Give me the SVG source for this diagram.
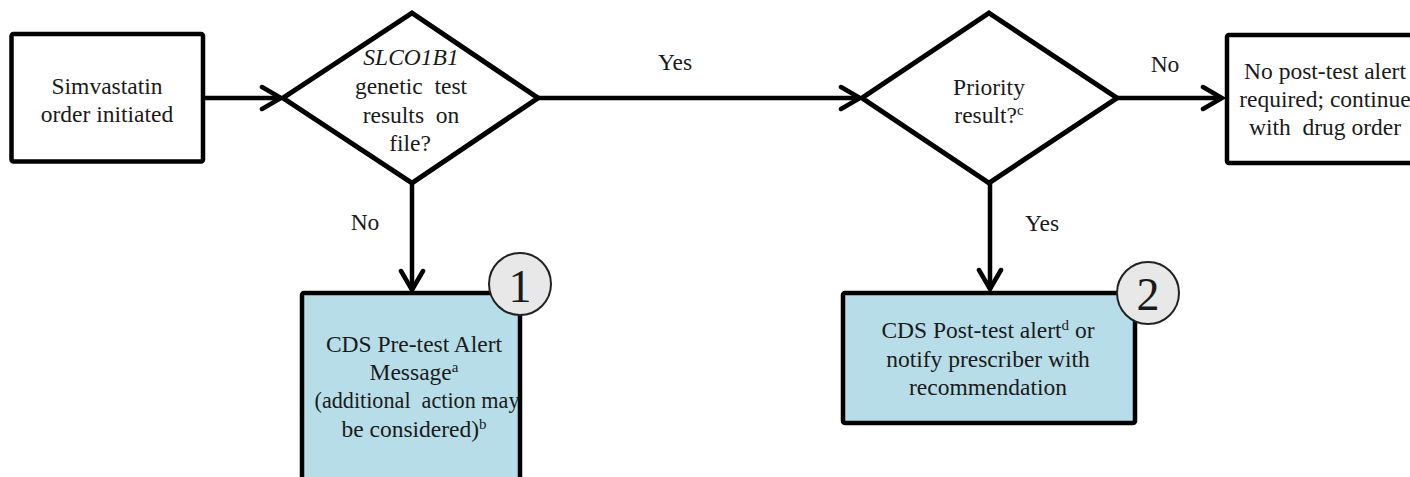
<svg xmlns="http://www.w3.org/2000/svg" width="1410" height="477" viewBox="0 0 1410 477">
<style>
.box{fill:#fff;stroke:#000;stroke-width:4.5;stroke-linejoin:round}
.blue{fill:#b7dde8;stroke:#000;stroke-width:4.5;stroke-linejoin:round}
.dia{fill:#fff;stroke:#000;stroke-width:5;stroke-linejoin:miter}
.conn{fill:none;stroke:#000;stroke-width:4.5}
.t{font-family:"Liberation Serif","Times New Roman",serif;font-size:23.5px;fill:#1a1a1a;text-anchor:middle}
.sup{font-size:15px}
.num{font-family:"Liberation Serif","Times New Roman",serif;font-size:46px;fill:#1a1a1a;text-anchor:middle}
.circ{fill:#e8e8e8;stroke:#222;stroke-width:2}
</style>
<defs>
<marker id="arr" markerUnits="userSpaceOnUse" viewBox="-24 -15 28 30" refX="0" refY="0" markerWidth="28" markerHeight="30" orient="auto">
<path d="M-19,-11 L0,0 L-19,11" fill="none" stroke="#000" stroke-width="4.5" stroke-linecap="round"/>
</marker>
</defs>
<g id="connectors">
<line class="conn" x1="203" y1="98" x2="281" y2="98" marker-end="url(#arr)"/>
<line class="conn" x1="538" y1="98" x2="860" y2="98" marker-end="url(#arr)"/>
<line class="conn" x1="1117" y1="98" x2="1222" y2="98" marker-end="url(#arr)"/>
<line class="conn" x1="412" y1="183" x2="412" y2="290" marker-end="url(#arr)"/>
<line class="conn" x1="990" y1="183" x2="990" y2="289" marker-end="url(#arr)"/>
<text class="t" x="675" y="70">Yes</text>
<text class="t" x="1165" y="72">No</text>
<text class="t" x="365" y="230">No</text>
<text class="t" x="1042" y="231">Yes</text>
</g>
<g id="start">
<rect class="box" x="11.5" y="34" width="191.5" height="127.5" rx="2"/>
<text class="t" x="107" y="94">Simvastatin</text>
<text class="t" x="107" y="122">order initiated</text>
</g>
<g id="decision1">
<polygon class="dia" points="412,13 538,98 412,183 283,98"/>
<text class="t" x="411" y="65" font-style="italic">SLCO1B1</text>
<text class="t" x="411" y="94" xml:space="preserve">genetic  test</text>
<text class="t" x="411" y="123" xml:space="preserve">results  on</text>
<text class="t" x="410" y="151">file?</text>
</g>
<g id="decision2">
<polygon class="dia" points="989,13 1117,98 989,183 862,98"/>
<text class="t" x="989" y="95">Priority</text>
<text class="t" x="989" y="123">result?<tspan class="sup" dy="-8">c</tspan></text>
</g>
<g id="noalert">
<rect class="box" x="1227" y="35" width="200" height="128" rx="2"/>
<text class="t" x="1325" y="79">No post-test alert</text>
<text class="t" x="1325" y="107">required; continue</text>
<text class="t" x="1325" y="135" xml:space="preserve">with  drug order</text>
</g>
<g id="pretest">
<rect class="blue" x="302" y="293" width="218" height="200" rx="2"/>
<text class="t" x="414" y="352">CDS Pre-test Alert</text>
<text class="t" x="414" y="380">Message<tspan class="sup" dy="-8">a</tspan></text>
<text class="t" x="417" y="408" xml:space="preserve" textLength="205" lengthAdjust="spacingAndGlyphs">(additional  action may</text>
<text class="t" x="414" y="437">be considered)<tspan class="sup" dy="-8">b</tspan></text>
<circle class="circ" cx="520" cy="284" r="31"/>
<text class="num" x="520" y="302">1</text>
</g>
<g id="posttest">
<rect class="blue" x="843" y="293" width="292" height="130" rx="2"/>
<text class="t" x="988" y="338">CDS Post-test alert<tspan class="sup" dy="-8">d</tspan><tspan dy="8"> or</tspan></text>
<text class="t" x="988" y="367">notify prescriber with</text>
<text class="t" x="988" y="395">recommendation</text>
<circle class="circ" cx="1148" cy="293" r="31"/>
<text class="num" x="1148" y="310">2</text>
</g>
</svg>
